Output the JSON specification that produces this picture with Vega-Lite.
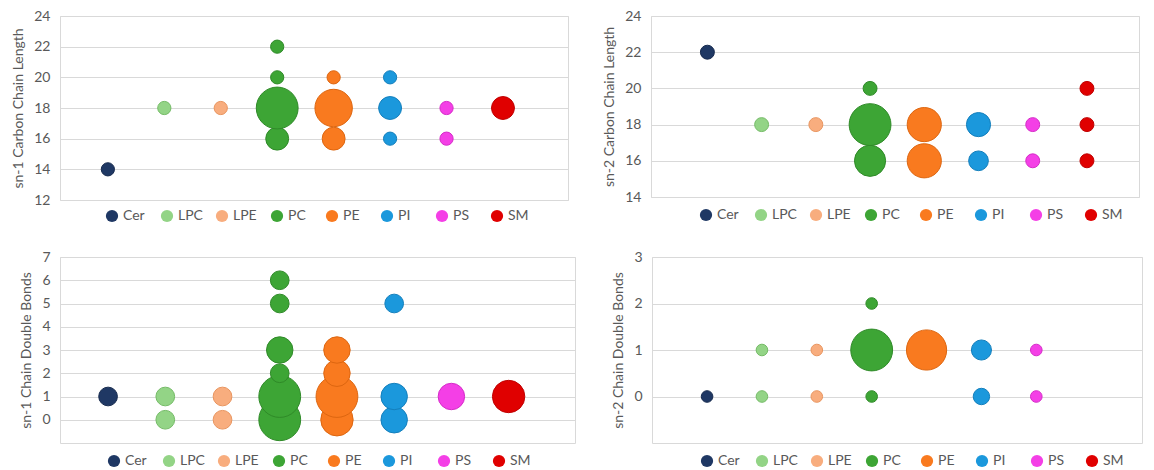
{
  "$schema": "https://vega.github.io/schema/vega-lite/v6.json",
  "background": "white",
  "padding": {"left": 11, "top": 8, "right": 5, "bottom": 0},
  "datasets": {
    "lipids": [
      {"panel": "sn1_len", "lipid": "Cer", "value": 14, "n": 1},
      {"panel": "sn1_len", "lipid": "LPC", "value": 18, "n": 1},
      {"panel": "sn1_len", "lipid": "LPE", "value": 18, "n": 1},
      {"panel": "sn1_len", "lipid": "PC", "value": 22, "n": 1},
      {"panel": "sn1_len", "lipid": "PC", "value": 20, "n": 1},
      {"panel": "sn1_len", "lipid": "PC", "value": 16, "n": 3},
      {"panel": "sn1_len", "lipid": "PC", "value": 18, "n": 10},
      {"panel": "sn1_len", "lipid": "PE", "value": 20, "n": 1},
      {"panel": "sn1_len", "lipid": "PE", "value": 16, "n": 3},
      {"panel": "sn1_len", "lipid": "PE", "value": 18, "n": 8},
      {"panel": "sn1_len", "lipid": "PI", "value": 20, "n": 1},
      {"panel": "sn1_len", "lipid": "PI", "value": 18, "n": 3},
      {"panel": "sn1_len", "lipid": "PI", "value": 16, "n": 1},
      {"panel": "sn1_len", "lipid": "PS", "value": 18, "n": 1},
      {"panel": "sn1_len", "lipid": "PS", "value": 16, "n": 1},
      {"panel": "sn1_len", "lipid": "SM", "value": 18, "n": 3},

      {"panel": "sn2_len", "lipid": "Cer", "value": 22, "n": 1},
      {"panel": "sn2_len", "lipid": "LPC", "value": 18, "n": 1},
      {"panel": "sn2_len", "lipid": "LPE", "value": 18, "n": 1},
      {"panel": "sn2_len", "lipid": "PC", "value": 20, "n": 1},
      {"panel": "sn2_len", "lipid": "PC", "value": 16, "n": 5},
      {"panel": "sn2_len", "lipid": "PC", "value": 18, "n": 9},
      {"panel": "sn2_len", "lipid": "PE", "value": 16, "n": 6},
      {"panel": "sn2_len", "lipid": "PE", "value": 18, "n": 6},
      {"panel": "sn2_len", "lipid": "PI", "value": 18, "n": 3},
      {"panel": "sn2_len", "lipid": "PI", "value": 16, "n": 2},
      {"panel": "sn2_len", "lipid": "PS", "value": 18, "n": 1},
      {"panel": "sn2_len", "lipid": "PS", "value": 16, "n": 1},
      {"panel": "sn2_len", "lipid": "SM", "value": 20, "n": 1},
      {"panel": "sn2_len", "lipid": "SM", "value": 18, "n": 1},
      {"panel": "sn2_len", "lipid": "SM", "value": 16, "n": 1},

      {"panel": "sn1_db", "lipid": "Cer", "value": 1, "n": 1},
      {"panel": "sn1_db", "lipid": "LPC", "value": 1, "n": 1},
      {"panel": "sn1_db", "lipid": "LPC", "value": 0, "n": 1},
      {"panel": "sn1_db", "lipid": "LPE", "value": 1, "n": 1},
      {"panel": "sn1_db", "lipid": "LPE", "value": 0, "n": 1},
      {"panel": "sn1_db", "lipid": "PC", "value": 6, "n": 1},
      {"panel": "sn1_db", "lipid": "PC", "value": 5, "n": 1},
      {"panel": "sn1_db", "lipid": "PC", "value": 3, "n": 2},
      {"panel": "sn1_db", "lipid": "PC", "value": 0, "n": 5},
      {"panel": "sn1_db", "lipid": "PC", "value": 1, "n": 5},
      {"panel": "sn1_db", "lipid": "PC", "value": 2, "n": 1},
      {"panel": "sn1_db", "lipid": "PE", "value": 0, "n": 3},
      {"panel": "sn1_db", "lipid": "PE", "value": 1, "n": 5},
      {"panel": "sn1_db", "lipid": "PE", "value": 2, "n": 2},
      {"panel": "sn1_db", "lipid": "PE", "value": 3, "n": 2},
      {"panel": "sn1_db", "lipid": "PI", "value": 5, "n": 1},
      {"panel": "sn1_db", "lipid": "PI", "value": 0, "n": 2},
      {"panel": "sn1_db", "lipid": "PI", "value": 1, "n": 2},
      {"panel": "sn1_db", "lipid": "PS", "value": 1, "n": 2},
      {"panel": "sn1_db", "lipid": "SM", "value": 1, "n": 3},

      {"panel": "sn2_db", "lipid": "Cer", "value": 0, "n": 1},
      {"panel": "sn2_db", "lipid": "LPC", "value": 1, "n": 1},
      {"panel": "sn2_db", "lipid": "LPC", "value": 0, "n": 1},
      {"panel": "sn2_db", "lipid": "LPE", "value": 1, "n": 1},
      {"panel": "sn2_db", "lipid": "LPE", "value": 0, "n": 1},
      {"panel": "sn2_db", "lipid": "PC", "value": 2, "n": 1},
      {"panel": "sn2_db", "lipid": "PC", "value": 1, "n": 13},
      {"panel": "sn2_db", "lipid": "PC", "value": 0, "n": 1},
      {"panel": "sn2_db", "lipid": "PE", "value": 1, "n": 12},
      {"panel": "sn2_db", "lipid": "PI", "value": 1, "n": 3},
      {"panel": "sn2_db", "lipid": "PI", "value": 0, "n": 2},
      {"panel": "sn2_db", "lipid": "PS", "value": 1, "n": 1},
      {"panel": "sn2_db", "lipid": "PS", "value": 0, "n": 1}
    ]
  },
  "data": {"name": "lipids"},
  "spacing": 25,
  "resolve": {
    "scale": {"color": "independent", "stroke": "independent", "size": "independent", "x": "independent", "y": "independent"},
    "legend": {"color": "independent"}
  },
  "vconcat": [
    {
      "spacing": 33,
      "resolve": {
        "scale": {"color": "independent", "stroke": "independent", "size": "independent", "x": "independent", "y": "independent"},
        "legend": {"color": "independent"}
      },
      "hconcat": [
        {
          "width": 508,
          "height": 184,
          "transform": [{"filter": "datum.panel === 'sn1_len'"}],
          "mark": {"type": "point", "filled": true, "shape": "circle", "opacity": 1, "strokeWidth": 1},
          "encoding": {
            "x": {"field": "lipid", "type": "nominal", "axis": null,
                  "scale": {"type": "point", "domain": ["Cer", "LPC", "LPE", "PC", "PE", "PI", "PS", "SM"], "padding": 1.18, "align": 0.424}},
            "y": {"field": "value", "type": "quantitative",
                  "scale": {"domain": [12, 24], "nice": false, "zero": false},
                  "axis": {"values": [12, 14, 16, 18, 20, 22, 24], "title": "sn-1 Carbon Chain Length"}},
            "size": {"field": "n", "type": "quantitative", "legend": null,
                     "scale": {"domain": [0, 10], "range": [0, 1750]}},
            "color": {"field": "lipid", "type": "nominal",
                      "scale": {"domain": ["Cer", "LPC", "LPE", "PC", "PE", "PI", "PS", "SM"],
                                "range": ["#1F3864", "#93D486", "#F8AD7E", "#3DA535", "#F97A1F", "#1B98DC", "#F43FE6", "#E00000"]},
                      "legend": {"title": null, "legendX": 45, "legendY": 193}},
            "stroke": {"field": "lipid", "type": "nominal", "legend": null,
                       "scale": {"domain": ["Cer", "LPC", "LPE", "PC", "PE", "PI", "PS", "SM"],
                                 "range": ["#162A4E", "#74BB66", "#E9955F", "#2F8A28", "#DD6610", "#147FBC", "#D52BC8", "#BF0000"]}}
          }
        },
        {
          "width": 488,
          "height": 181,
          "transform": [{"filter": "datum.panel === 'sn2_len'"}],
          "mark": {"type": "point", "filled": true, "shape": "circle", "opacity": 1, "strokeWidth": 1},
          "encoding": {
            "x": {"field": "lipid", "type": "nominal", "axis": null,
                  "scale": {"type": "point", "domain": ["Cer", "LPC", "LPE", "PC", "PE", "PI", "PS", "SM"], "padding": 1, "align": 0.52}},
            "y": {"field": "value", "type": "quantitative",
                  "scale": {"domain": [14, 24], "nice": false, "zero": false},
                  "axis": {"values": [14, 16, 18, 20, 22, 24], "title": "sn-2 Carbon Chain Length"}},
            "size": {"field": "n", "type": "quantitative", "legend": null,
                     "scale": {"domain": [0, 9], "range": [0, 1750]}},
            "color": {"field": "lipid", "type": "nominal",
                      "scale": {"domain": ["Cer", "LPC", "LPE", "PC", "PE", "PI", "PS", "SM"],
                                "range": ["#1F3864", "#93D486", "#F8AD7E", "#3DA535", "#F97A1F", "#1B98DC", "#F43FE6", "#E00000"]},
                      "legend": {"title": null, "legendX": 48, "legendY": 192}},
            "stroke": {"field": "lipid", "type": "nominal", "legend": null,
                       "scale": {"domain": ["Cer", "LPC", "LPE", "PC", "PE", "PI", "PS", "SM"],
                                 "range": ["#162A4E", "#74BB66", "#E9955F", "#2F8A28", "#DD6610", "#147FBC", "#D52BC8", "#BF0000"]}}
          }
        }
      ]
    },
    {
      "spacing": 35,
      "resolve": {
        "scale": {"color": "independent", "stroke": "independent", "size": "independent", "x": "independent", "y": "independent"},
        "legend": {"color": "independent"}
      },
      "hconcat": [
        {
          "width": 515,
          "height": 186,
          "transform": [{"filter": "datum.panel === 'sn1_db'"}],
          "mark": {"type": "point", "filled": true, "shape": "circle", "opacity": 1, "strokeWidth": 1},
          "encoding": {
            "x": {"field": "lipid", "type": "nominal", "axis": null,
                  "scale": {"type": "point", "domain": ["Cer", "LPC", "LPE", "PC", "PE", "PI", "PS", "SM"], "padding": 1.205, "align": 0.42}},
            "y": {"field": "value", "type": "quantitative",
                  "scale": {"domain": [-1, 7], "nice": false, "zero": false},
                  "axis": {"values": [0, 1, 2, 3, 4, 5, 6, 7], "title": "sn-1 Chain Double Bonds"}},
            "size": {"field": "n", "type": "quantitative", "legend": null,
                     "scale": {"domain": [0, 5], "range": [0, 1750]}},
            "color": {"field": "lipid", "type": "nominal",
                      "scale": {"domain": ["Cer", "LPC", "LPE", "PC", "PE", "PI", "PS", "SM"],
                                "range": ["#1F3864", "#93D486", "#F8AD7E", "#3DA535", "#F97A1F", "#1B98DC", "#F43FE6", "#E00000"]},
                      "legend": {"title": null, "legendX": 47, "legendY": 197}},
            "stroke": {"field": "lipid", "type": "nominal", "legend": null,
                       "scale": {"domain": ["Cer", "LPC", "LPE", "PC", "PE", "PI", "PS", "SM"],
                                 "range": ["#162A4E", "#74BB66", "#E9955F", "#2F8A28", "#DD6610", "#147FBC", "#D52BC8", "#BF0000"]}}
          }
        },
        {
          "width": 490,
          "height": 186,
          "transform": [{"filter": "datum.panel === 'sn2_db'"}],
          "mark": {"type": "point", "filled": true, "shape": "circle", "opacity": 1, "strokeWidth": 1},
          "encoding": {
            "x": {"field": "lipid", "type": "nominal", "axis": null,
                  "scale": {"type": "point", "domain": ["Cer", "LPC", "LPE", "PC", "PE", "PI", "PS", "SM"], "padding": 0.965, "align": 0.52}},
            "y": {"field": "value", "type": "quantitative",
                  "scale": {"domain": [-1, 3], "nice": false, "zero": false},
                  "axis": {"values": [0, 1, 2, 3], "title": "sn-2 Chain Double Bonds"}},
            "size": {"field": "n", "type": "quantitative", "legend": null,
                     "scale": {"domain": [0, 13], "range": [0, 1750]}},
            "color": {"field": "lipid", "type": "nominal",
                      "scale": {"domain": ["Cer", "LPC", "LPE", "PC", "PE", "PI", "PS", "SM"],
                                "range": ["#1F3864", "#93D486", "#F8AD7E", "#3DA535", "#F97A1F", "#1B98DC", "#F43FE6", "#E00000"]},
                      "legend": {"title": null, "legendX": 48, "legendY": 197}},
            "stroke": {"field": "lipid", "type": "nominal", "legend": null,
                       "scale": {"domain": ["Cer", "LPC", "LPE", "PC", "PE", "PI", "PS", "SM"],
                                 "range": ["#162A4E", "#74BB66", "#E9955F", "#2F8A28", "#DD6610", "#147FBC", "#D52BC8", "#BF0000"]}}
          }
        }
      ]
    }
  ],
  "config": {
    "font": "Lato",
    "view": {"stroke": "#D9D9D9", "strokeWidth": 1},
    "axisY": {
      "domain": false,
      "ticks": false,
      "grid": true,
      "gridColor": "#D9D9D9",
      "gridWidth": 1,
      "labelColor": "#595959",
      "labelFont": "Lato",
      "labelFontSize": 14,
      "labelPadding": 10,
      "titleColor": "#595959",
      "titleFont": "Lato",
      "titleFontSize": 14,
      "titleFontWeight": "normal",
      "titlePadding": 8
    },
    "legend": {
      "orient": "none",
      "direction": "horizontal",
      "columns": 8,
      "gridAlign": "all",
      "symbolType": "circle",
      "symbolSize": 150,
      "symbolStrokeWidth": 0,
      "labelFont": "Lato",
      "labelFontSize": 14,
      "labelColor": "#595959",
      "labelOffset": 4,
      "columnPadding": 12,
      "padding": 0
    }
  }
}
